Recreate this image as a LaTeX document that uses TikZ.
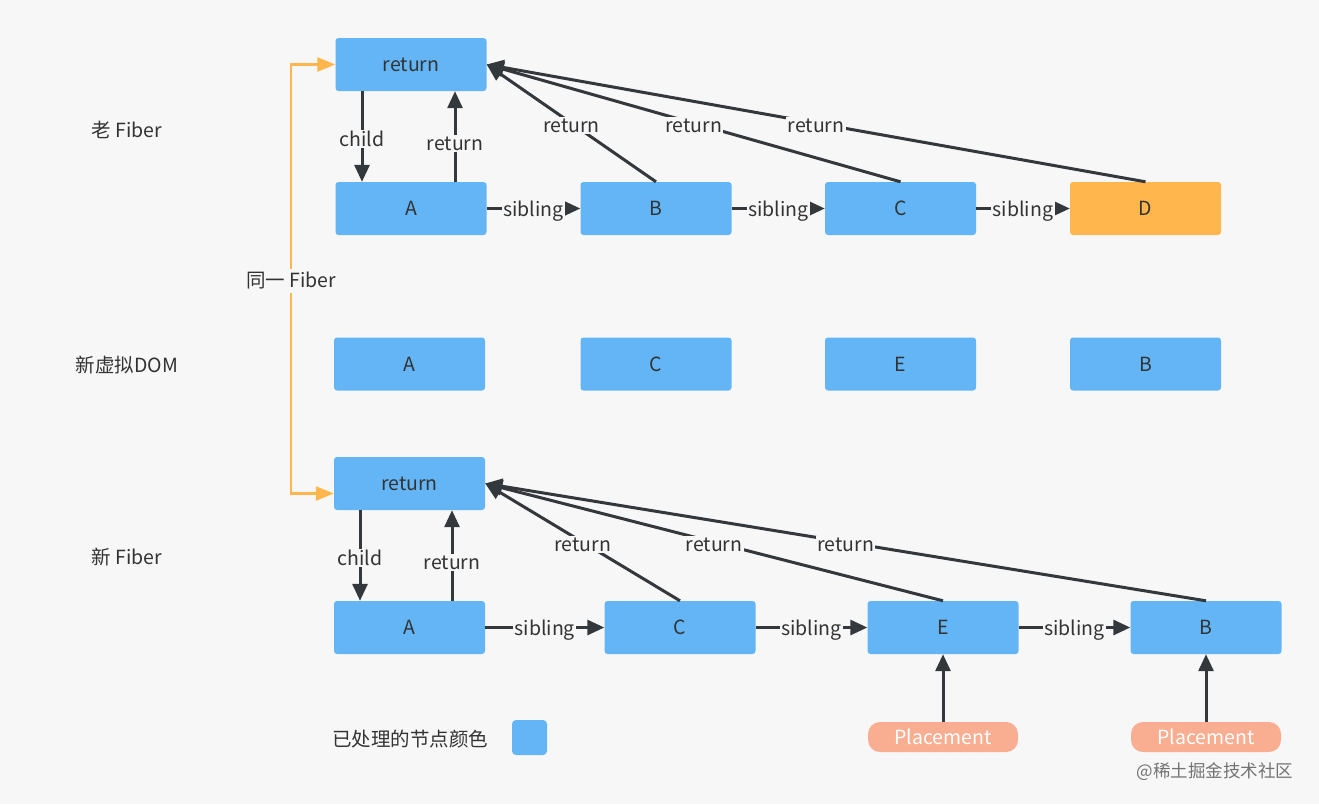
\documentclass[tikz,border=0pt]{standalone}
\usepackage{fontspec}
\setmainfont{Noto Sans CJK SC}
\usetikzlibrary{arrows.meta,positioning}
\definecolor{bg}{HTML}{F7F7F7}
\definecolor{fblue}{HTML}{64B5F6}
\definecolor{forange}{HTML}{FFB74D}
\definecolor{fplace}{HTML}{F9AE92}
\definecolor{lgray}{HTML}{33383D}
\definecolor{tgray}{HTML}{333333}

\tikzset{
  fnode/.style={fill=fblue, rounded corners=3pt, minimum width=151pt, minimum height=53pt, inner sep=0pt, text=tgray},
  pnode/.style={fill=fplace, rounded corners=12pt, minimum width=150pt, minimum height=30pt, inner sep=0pt, text=white},
  link/.style={draw=lgray, line width=3pt, -{Triangle[length=17pt,width=15pt]}},
  same/.style={draw=forange, line width=2.6pt, -{Triangle[length=18pt,width=14pt]}},
  lbl/.style={fill=bg, inner sep=1.5pt, text=tgray, yshift=-2.5pt},
}

\begin{document}
\begin{tikzpicture}[x=1pt,y=-1pt,font=\fontsize{19.5}{23}\selectfont]
    \fill[bg] (0,0) rectangle (1319,804);
    \useasboundingbox (0,0) rectangle (1319,804);

    % row titles
    \node[text=tgray] (tOld) at (127,130) {老 Fiber};
    \node[text=tgray] (tDom) at (127,365) {新虚拟DOM};
    \node[text=tgray] (tNew) at (127,557) {新 Fiber};

    % old fiber
    \node[fnode] (r1) at (411,64.5) {return};
    \node[fnode] (a1) at (411,208.5) {A};
    \node[fnode] (b1) at (656,208.5) {B};
    \node[fnode] (c1) at (900.5,208.5) {C};
    \node[fnode,fill=forange] (d1) at (1145.5,208.5) {D};

    \draw[link] ([xshift=-49pt]r1.south) -- ([xshift=-49pt]a1.north) node[midway,lbl]{child};
    \draw[link] ([xshift=44pt]a1.north) -- ([xshift=44pt]r1.south) node[pos=0.45,lbl]{return};
    \draw[link] (b1.north) -- (r1.east) node[midway,lbl]{return};
    \draw[link] (c1.north) -- (r1.east) node[midway,lbl]{return};
    \draw[link] (d1.north) -- (r1.east) node[midway,lbl]{return};
    \draw[link] (a1) -- (b1) node[midway,lbl]{sibling};
    \draw[link] (b1) -- (c1) node[midway,lbl]{sibling};
    \draw[link] (c1) -- (d1) node[midway,lbl]{sibling};

    % new virtual dom
    \node[fnode] (a2) at (409.5,364) {A};
    \node[fnode] (c2) at (656,364) {C};
    \node[fnode] (e2) at (900.5,364) {E};
    \node[fnode] (b2) at (1145.5,364) {B};

    % new fiber
    \node[fnode] (r3) at (409.5,483.5) {return};
    \node[fnode] (a3) at (409.5,627.5) {A};
    \node[fnode] (c3) at (680,627.5) {C};
    \node[fnode] (e3) at (943,627.5) {E};
    \node[fnode] (b3) at (1206,627.5) {B};

    \draw[link] ([xshift=-49.5pt]r3.south) -- ([xshift=-49.5pt]a3.north) node[midway,lbl]{child};
    \draw[link] ([xshift=42.5pt]a3.north) -- ([xshift=42.5pt]r3.south) node[pos=0.45,lbl]{return};
    \draw[link] (c3.north) -- (r3.east) node[midway,lbl]{return};
    \draw[link] (e3.north) -- (r3.east) node[midway,lbl]{return};
    \draw[link] (b3.north) -- (r3.east) node[midway,lbl]{return};
    \draw[link] (a3) -- (c3) node[midway,lbl]{sibling};
    \draw[link] (c3) -- (e3) node[midway,lbl]{sibling};
    \draw[link] (e3) -- (b3) node[midway,lbl]{sibling};

    \node[pnode] (p1) at (943,737) {Placement};
    \node[pnode] (p2) at (1206,737) {Placement};
    \draw[link] (p1) -- (e3);
    \draw[link] (p2) -- (b3);

    % same fiber
    \node[text=tgray,inner sep=3pt] (same) at (291,281) {同一 Fiber};
    \draw[same] (same.north) |- (r1.west);
    \draw[same] (same.south) |- ([yshift=-10pt]r3.west);

    % legend
    \node[text=tgray] (legend) at (410,739) {已处理的节点颜色};
    \node[fill=fblue, rounded corners=4pt, minimum size=35pt, inner sep=0pt] (key) at (529.5,737.5) {};

    \node[text=black!55, font=\fontsize{17.5}{20}\selectfont] (mark) at (1215,772) {@稀土掘金技术社区};
\end{tikzpicture}
\end{document}
